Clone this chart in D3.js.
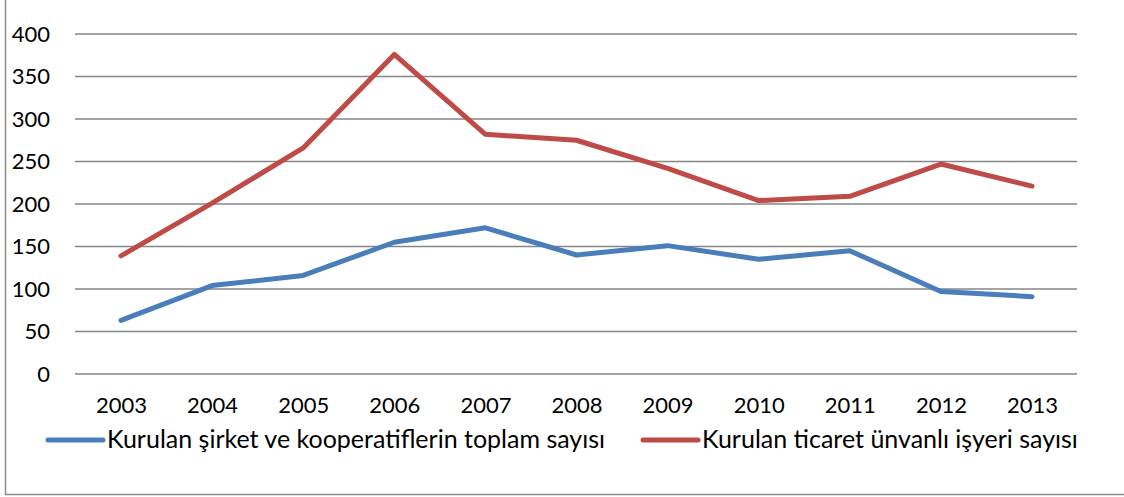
<!DOCTYPE html>
<html>
<head>
<meta charset="utf-8">
<script src="https://cdn.jsdelivr.net/npm/d3@7"></script>
<style>
  body { margin: 0; background: #fff; }
  text { font-family: Lato, "Noto Sans", sans-serif; fill: #000; }
</style>
</head>
<body>
<div id="chart"></div>
<script>
// data
var years = ["2003", "2004", "2005", "2006", "2007", "2008", "2009", "2010", "2011", "2012", "2013"];
var sirketValues = [63, 104, 116, 155, 172, 140, 151, 135, 145, 97, 91];
var ticaretValues = [139, 201, 266, 376, 282, 275, 242, 204, 209, 247, 221];
var yTicks = [0, 50, 100, 150, 200, 250, 300, 350, 400];
var seriesNames = ["Kurulan şirket ve kooperatiflerin toplam sayısı", "Kurulan ticaret ünvanlı işyeri sayısı"];

var width = 1124;
var height = 497;

var svg = d3.select("#chart")
  .append("svg")
  .attr("width", width)
  .attr("height", height);

// outer frame (only left and bottom edges are visible in the picture)
svg.append("path")
  .attr("d", "M5.5,0 V494.5 H" + width)
  .attr("fill", "none")
  .attr("stroke", "#8c8c8c")
  .attr("stroke-width", 1.5);

var plotLeft = 75, plotRight = 1077;

var x = d3.scalePoint()
  .domain(years)
  .range([121, 1032]);

var y = d3.scaleLinear()
  .domain([0, 400])
  .range([374, 34]);

// gridlines
svg.append("g")
  .selectAll("line")
  .data(yTicks)
  .enter()
  .append("line")
  .attr("x1", plotLeft)
  .attr("x2", plotRight)
  .attr("y1", function(d) { return y(d); })
  .attr("y2", function(d) { return y(d); })
  .attr("stroke", "#868686")
  .attr("stroke-width", 1.5);

// y axis labels
var yAxis = d3.axisLeft(y).tickValues(yTicks).tickSize(0).tickPadding(0);
var yG = svg.append("g")
  .attr("transform", "translate(50,0)")
  .call(yAxis);
yG.select(".domain").remove();
yG.selectAll("text")
  .attr("font-size", 22)
  .attr("font-family", "Lato, sans-serif")
  .attr("fill", "#000");

// x axis labels
var xAxis = d3.axisBottom(x).tickSize(0).tickPadding(0);
var xG = svg.append("g")
  .attr("transform", "translate(0,397)")
  .call(xAxis);
xG.select(".domain").remove();
xG.selectAll("text")
  .attr("font-size", 22)
  .attr("font-family", "Lato, sans-serif")
  .attr("fill", "#000");

// lines
var line = d3.line()
  .x(function(d, i) { return x(years[i]); })
  .y(function(d) { return y(d); });

var colors = ["#4a7ebb", "#be4b48"];

[sirketValues, ticaretValues].forEach(function(vals, i) {
  svg.append("path")
    .datum(vals)
    .attr("d", line)
    .attr("fill", "none")
    .attr("stroke", colors[i])
    .attr("stroke-width", 5)
    .attr("stroke-linejoin", "round")
    .attr("stroke-linecap", "round");
});

// legend
var legendX = [48, 643];
seriesNames.forEach(function(name, i) {
  var g = svg.append("g").attr("transform", "translate(" + legendX[i] + ",440)");
  g.append("line")
    .attr("x1", 0)
    .attr("x2", 55)
    .attr("stroke", colors[i])
    .attr("stroke-width", 5)
    .attr("stroke-linecap", "round");
  g.append("text")
    .attr("x", 59)
    .attr("y", 8)
    .attr("font-size", 25)
    .text(name);
});
</script>
</body>
</html>
